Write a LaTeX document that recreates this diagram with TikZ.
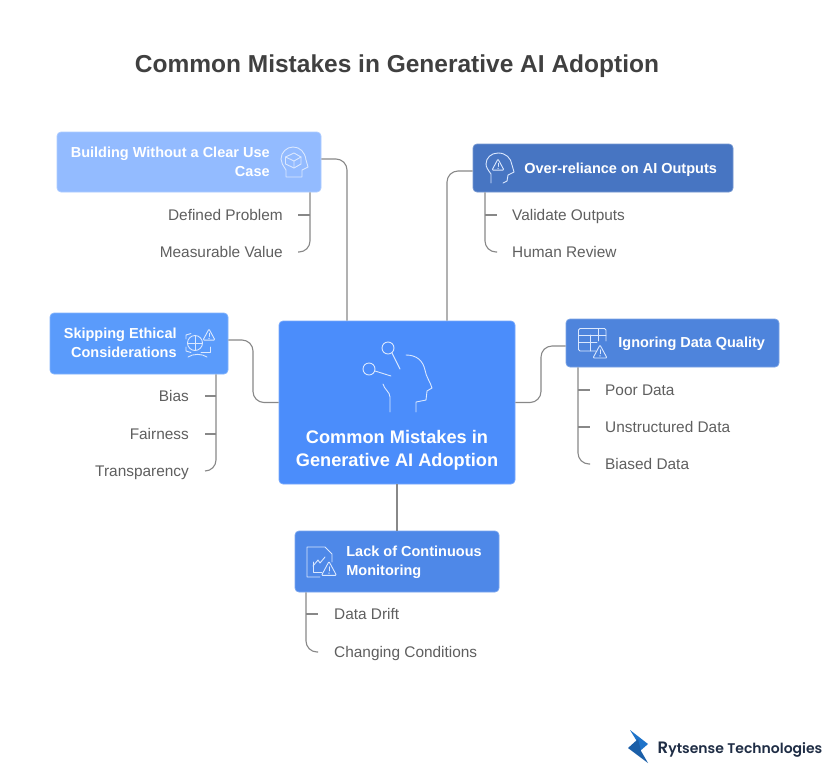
\documentclass[tikz,border=0pt]{standalone}
\usepackage{fontspec}
\setmainfont{Liberation Sans}
\newfontfamily\logofont{Poppins SemiBold}
\definecolor{cA}{HTML}{93BBFF}
\definecolor{cB}{HTML}{4775C2}
\definecolor{cC}{HTML}{5A9BFB}
\definecolor{cD}{HTML}{4E84DC}
\definecolor{cE}{HTML}{4E88E8}
\definecolor{cM}{HTML}{4B8DFB}
\definecolor{ink}{HTML}{404040}
\definecolor{lab}{HTML}{5F5F5F}
\definecolor{wire}{HTML}{888888}
\definecolor{logoA}{HTML}{1F73C9}
\definecolor{logoB}{HTML}{1B5FA8}
\definecolor{logoT}{HTML}{1F2D45}
\tikzset{
  x=1pt,y=-1pt,
  boxbase/.style={rounded corners=4pt,inner sep=0pt,line width=.7pt,text=white,font=\fontsize{14.5}{19}\selectfont\bfseries},
  conn/.style={draw=wire,line width=1.1pt,rounded corners=11pt},
  twig/.style={draw=wire,line width=1.1pt},
  llab/.style={inner ysep=0pt,text height=12pt,text depth=2pt,text=lab,font=\fontsize{15.4}{16}\selectfont},
  ico/.style={draw=white!80!cM,line width=.9pt,line join=round,line cap=round,fill=none},
}
\newcommand{\warntri}[3]{% cx, cy, half-width
  \draw[ico,rounded corners=1pt] (#1,#2-#3) -- (#1+#3,#2+#3*.85) -- (#1-#3,#2+#3*.85) -- cycle;
  \draw[ico] (#1,#2-#3*.3) -- (#1,#2+#3*.25);
  \fill[white!80!cM] (#1,#2+#3*.55) circle (.7);
}
\begin{document}
\begin{tikzpicture}
\useasboundingbox (0,0) rectangle (834,774);
\fill[white] (0,0) rectangle (834,774);

\node[text=ink,font=\fontsize{24.5}{28}\selectfont\bfseries] (title) at (397,66.5) {Common Mistakes in Generative AI Adoption};

% boxes
\node[boxbase,fill=cM,draw=white!25!cM,minimum width=236pt,minimum height=163pt] (hub) at (397,402.5) {};
\node[text=white,align=center,font=\fontsize{18.2}{23}\selectfont\bfseries] (hubt) at (397,450) {Common Mistakes in\\Generative AI Adoption};
\node[boxbase,fill=cA,draw=white!25!cA,minimum width=264pt,minimum height=60pt] (b1) at (189,162) {};
\node[boxbase,fill=cB,draw=white!25!cB,minimum width=260pt,minimum height=48pt] (b2) at (603,168) {};
\node[boxbase,fill=cC,draw=white!25!cC,minimum width=178pt,minimum height=61pt] (b3) at (139,343.5) {};
\node[boxbase,fill=cD,draw=white!25!cD,minimum width=213pt,minimum height=48pt] (b4) at (672.5,343) {};
\node[boxbase,fill=cE,draw=white!25!cE,minimum width=204pt,minimum height=61pt] (b5) at (397,561.5) {};

% box texts
\node[boxbase,align=right,anchor=east] (t1) at (270,162) {Building Without a Clear Use\\Case};
\node[boxbase,anchor=west] (t2) at (524,169.5) {Over-reliance on AI Outputs};
\node[boxbase,align=right,anchor=east] (t3) at (177,343) {Skipping Ethical\\Considerations};
\node[boxbase,anchor=west] (t4) at (618,344) {Ignoring Data Quality};
\node[boxbase,align=left,anchor=west] (t5) at (346,562.5) {Lack of Continuous\\Monitoring};

% leaf labels
\node[llab,anchor=east,inner xsep=15pt] (l11) at (298,215) {Defined Problem};
\node[llab,anchor=east,inner xsep=15pt] (l12) at (298,252) {Measurable Value};
\node[llab,anchor=west,inner xsep=15pt] (l21) at (497,215) {Validate Outputs};
\node[llab,anchor=west,inner xsep=15pt] (l22) at (497,252) {Human Review};
\node[llab,anchor=east,inner xsep=16pt] (l31) at (205,396) {Bias};
\node[llab,anchor=east,inner xsep=16pt] (l32) at (205,434) {Fairness};
\node[llab,anchor=east,inner xsep=16pt] (l33) at (205,471) {Transparency};
\node[llab,anchor=west,inner xsep=15pt] (l41) at (590,390) {Poor Data};
\node[llab,anchor=west,inner xsep=15pt] (l42) at (590,427) {Unstructured Data};
\node[llab,anchor=west,inner xsep=15pt] (l43) at (590,464) {Biased Data};
\node[llab,anchor=west,inner xsep=16pt] (l51) at (318,614) {Data Drift};
\node[llab,anchor=west,inner xsep=16pt] (l52) at (318,652) {Changing Conditions};

% main connectors
\coordinate (h1) at (hub.north -| 347,0);
\coordinate (h2) at (hub.north -| 447,0);
\draw[conn] ([yshift=3pt]b1.east) -| (h1);
\draw[conn] ([yshift=-3pt]b2.west) -| (h2);
\draw[conn] ([yshift=3.5pt]b3.east) -- (253,340) -- (253,402.5) -- (hub.west);
\draw[conn] ([yshift=-3pt]b4.west) -- (541,346) -- (541,402.5) -- (hub.east);
\draw[twig] (hub.south) -- (b5.north);

% leaf connectors
\coordinate (r1) at (b1.south -| 310,0);
\coordinate (r2) at (b2.south -| 485,0);
\coordinate (r3) at (b3.south -| 216,0);
\coordinate (r4) at (b4.south -| 578,0);
\coordinate (r5) at (b5.south -| 306,0);
\draw[twig] (r1 |- l11.east) -- (l11.east);
\draw[conn] (r1) |- (l12.east);
\draw[twig] (r2 |- l21.west) -- (l21.west);
\draw[conn] (r2) |- (l22.west);
\draw[twig] (r3 |- l31.east) -- (l31.east);
\draw[twig] (r3 |- l32.east) -- (l32.east);
\draw[conn] (r3) |- (l33.east);
\draw[twig] (r4 |- l41.west) -- (l41.west);
\draw[twig] (r4 |- l42.west) -- (l42.west);
\draw[conn] (r4) |- (l43.west);
\draw[twig] (r5 |- l51.west) -- (l51.west);
\draw[conn] (r5) |- (l52.west);

% hub icon
\draw[ico] (388,348) circle (6);
\draw[ico] (369,369) circle (6);
\draw[ico] (392,353) -- (400,369);
\draw[ico] (375,371) -- (391,376);
\draw[ico] (406,355) .. controls (417,355) and (423,361) .. (425,370) .. controls (426,377) and (430,381) .. (432,388) -- (427,391) -- (426,400) -- (416,402) -- (416,412);
\draw[ico] (383,384) .. controls (384,389) and (390,392) .. (390,397) -- (390,412);

% b1 icon: head with cube
\draw[ico] (286,177) -- (286,170) .. controls (283,165) and (281,163) .. (281,159) .. controls (281,152) and (287,147) .. (293,147) .. controls (300,147) and (305,152) .. (306,160) -- (308,167) -- (302,170) -- (302,177) -- cycle;
\draw[ico] (294,153) -- (301,157) -- (301,164) -- (294,168) -- (285.5,164) -- (285.5,157) -- cycle;
\draw[ico] (285.5,157) -- (294,161) -- (301,157) (294,161) -- (294,168);

% b2 icon: head with warning
\draw[ico] (491,183) -- (491,174) .. controls (488,170) and (486,167) .. (486,164) .. controls (486,158) and (491,153) .. (498,153) .. controls (506,153) and (511,158) .. (512,165) -- (514,172) -- (508,175) -- (507,181) -- (503,183);
\warntri{498}{165}{6}

% b3 icon: brackets, globe, warning
\draw[ico] (186,339) -- (186,335) -- (191,333.5);
\draw[ico] (186,347) -- (186,351) -- (191,352.5);
\draw[ico] (201,352.5) -- (210,352.5) -- (210,347);
\draw[ico] (195,343) circle (7.5);
\draw[ico] (195,335.5) -- (195,350.5) (187.5,343) -- (202.5,343);
\draw[ico] (188,357) .. controls (193,353.5) and (202,353.5) .. (207,357);
\warntri{209}{335}{6}

% b4 icon: table with warning
\draw[ico,rounded corners=1.5pt] (596,351) -- (578.5,351) -- (578.5,328.5) -- (606,328.5) -- (606,341);
\draw[ico] (578.5,335) -- (606,335) (578.5,342) -- (597,342) (590,335) -- (590,351) (598,328.5) -- (598,341);
\warntri{600}{352}{7}

% b5 icon: document with chart and warning
\draw[ico] (320,577) -- (307,577) -- (307,547) -- (325,547) -- (332,554) -- (332,562);
\draw[ico] (313,562) -- (313,572) -- (322,572);
\draw[ico] (313,566) -- (318,560) -- (320,563) -- (325,557);
\warntri{329}{569}{7.5}

% logo
\fill[logoA] (630,730) -- (648,744) -- (640,751) -- (638,743) -- cycle;
\fill[logoB] (628,748) -- (638,739) -- (641,751) -- (648,763) -- cycle;
\node[anchor=base west,inner sep=0pt,text=logoT,font=\logofont\fontsize{14}{16}\selectfont] (logo) at (657.5,753.5) {{\fontsize{16.5}{16}\selectfont R}ytsense Technologies};
\end{tikzpicture}
\end{document}
